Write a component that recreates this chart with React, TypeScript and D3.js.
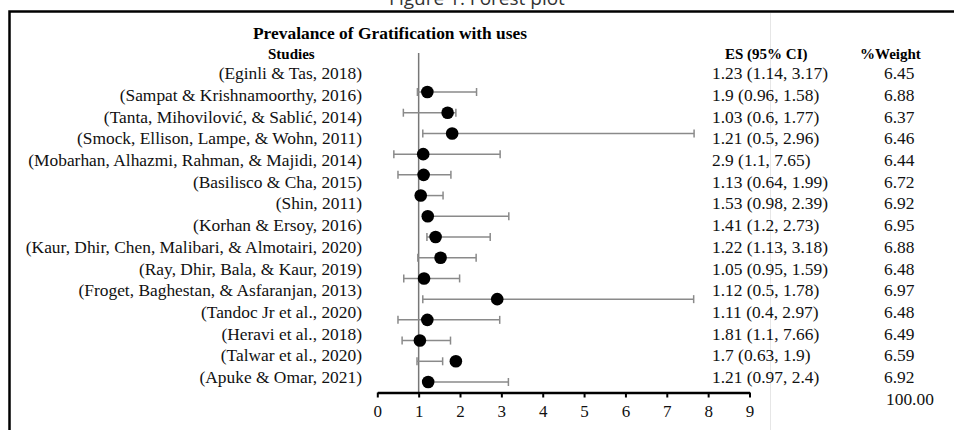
import React, { useEffect, useRef } from 'react';
import * as d3 from 'd3';

const studies = [
  '(Eginli & Tas, 2018)',
  '(Sampat & Krishnamoorthy, 2016)',
  '(Tanta, Mihovilović, & Sablić, 2014)',
  '(Smock, Ellison, Lampe, & Wohn, 2011)',
  '(Mobarhan, Alhazmi, Rahman, & Majidi, 2014)',
  '(Basilisco & Cha, 2015)',
  '(Shin, 2011)',
  '(Korhan & Ersoy, 2016)',
  '(Kaur, Dhir, Chen, Malibari, & Almotairi, 2020)',
  '(Ray, Dhir, Bala, & Kaur, 2019)',
  '(Froget, Baghestan, & Asfaranjan, 2013)',
  '(Tandoc Jr et al., 2020)',
  '(Heravi et al., 2018)',
  '(Talwar et al., 2020)',
  '(Apuke & Omar, 2021)',
];
const es = [1.23, 1.9, 1.03, 1.21, 2.9, 1.13, 1.53, 1.41, 1.22, 1.05, 1.12, 1.11, 1.81, 1.7, 1.21];
const lower = [1.14, 0.96, 0.6, 0.5, 1.1, 0.64, 0.98, 1.2, 1.13, 0.95, 0.5, 0.4, 1.1, 0.63, 0.97];
const upper = [3.17, 1.58, 1.77, 2.96, 7.65, 1.99, 2.39, 2.73, 3.18, 1.59, 1.78, 2.97, 7.66, 1.9, 2.4];
const weights = ['6.45', '6.88', '6.37', '6.46', '6.44', '6.72', '6.92', '6.95', '6.88', '6.48', '6.97', '6.48', '6.49', '6.59', '6.92'];
const totalWeight = '100.00';
const xTicks = [0, 1, 2, 3, 4, 5, 6, 7, 8, 9];

const serif = '"Liberation Serif", "Times New Roman", serif';
const fs = 17.4;

const App = () => {
  const ref = useRef(null);

  useEffect(() => {
    const svg = d3.select(ref.current);
    svg.selectAll('*').remove();

    const W = 954;
    const H = 430;
    svg.attr('width', W).attr('height', H);

    const x = d3.scaleLinear().domain([0, 9]).range([377.3, 749.5]);
    // table rows
    const yRow = d3.scalePoint().domain(studies).range([73, 377]);
    const step = yRow.step();
    // plotted rows come out in reverse order
    const yPlot = d3.scalePoint().domain(studies.slice().reverse()).range([92, 382]);

    // caption, cut at the top
    svg.append('text')
      .attr('x', 477).attr('y', 5)
      .attr('text-anchor', 'middle')
      .attr('font-family', '"Open Sans", sans-serif')
      .attr('font-size', 19)
      .attr('fill', '#333')
      .text('Figure 1: Forest plot');

    // frame
    svg.append('path')
      .attr('d', `M${W + 5},11.5 H9.5 V${H + 5}`)
      .attr('fill', 'none')
      .attr('stroke', '#000')
      .attr('stroke-width', 2.5);

    // faint divider
    svg.append('line')
      .attr('x1', 770.5).attr('x2', 770.5)
      .attr('y1', 13).attr('y2', H)
      .attr('stroke', '#e6e6e6')
      .attr('stroke-width', 1);

    svg.append('text')
      .attr('x', 253).attr('y', 33)
      .attr('dy', '0.35em')
      .attr('font-family', serif)
      .attr('font-size', fs)
      .attr('font-weight', 'bold')
      .text('Prevalance of Gratification with uses');

    const header = (tx, label) => svg.append('text')
      .attr('x', tx).attr('y', 54)
      .attr('dy', '0.35em')
      .attr('font-family', serif)
      .attr('font-size', 15)
      .attr('font-weight', 'bold')
      .text(label);
    header(268, 'Studies');
    header(725, 'ES (95% CI)');
    header(860, '%Weight');

    // study labels
    svg.append('g')
      .selectAll('text')
      .data(studies)
      .join('text')
      .attr('x', 362)
      .attr('y', d => yRow(d))
      .attr('dy', '0.35em')
      .attr('text-anchor', 'end')
      .attr('font-family', serif)
      .attr('font-size', fs)
      .attr('fill', '#111')
      .text(d => d);

    // ES column
    svg.append('g')
      .selectAll('text')
      .data(studies)
      .join('text')
      .attr('x', 712)
      .attr('y', d => yRow(d))
      .attr('dy', '0.35em')
      .attr('font-family', serif)
      .attr('font-size', fs)
      .attr('fill', '#111')
      .text((d, i) => `${es[i]} (${lower[i]}, ${upper[i]})`);

    // weight column
    svg.append('g')
      .selectAll('text')
      .data(studies)
      .join('text')
      .attr('x', 884)
      .attr('y', d => yRow(d))
      .attr('dy', '0.35em')
      .attr('font-family', serif)
      .attr('font-size', fs)
      .attr('fill', '#111')
      .text((d, i) => weights[i]);

    svg.append('text')
      .attr('x', 886)
      .attr('y', yRow(studies[studies.length - 1]) + step)
      .attr('dy', '0.35em')
      .attr('font-family', serif)
      .attr('font-size', fs)
      .attr('fill', '#111')
      .text(totalWeight);

    const axisY = 392.5;

    // reference line at 1
    svg.append('line')
      .attr('x1', x(1)).attr('x2', x(1))
      .attr('y1', 53).attr('y2', axisY)
      .attr('stroke', '#777')
      .attr('stroke-width', 1.5);

    // CIs
    const g = svg.append('g');
    studies.forEach((s, i) => {
      const yy = yPlot(s);
      g.append('line')
        .attr('x1', x(lower[i])).attr('x2', x(upper[i]))
        .attr('y1', yy).attr('y2', yy)
        .attr('stroke', '#8a8a8a')
        .attr('stroke-width', 1.5);
      [lower[i], upper[i]].forEach(v => {
        g.append('line')
          .attr('x1', x(v)).attr('x2', x(v))
          .attr('y1', yy - 4).attr('y2', yy + 4)
          .attr('stroke', '#8a8a8a')
          .attr('stroke-width', 1.5);
      });
    });
    g.selectAll('circle')
      .data(studies)
      .join('circle')
      .attr('cx', (d, i) => x(es[i]))
      .attr('cy', d => yPlot(d))
      .attr('r', 6.3)
      .attr('fill', '#000');

    // x axis
    const axis = svg.append('g')
      .attr('transform', `translate(0,${axisY})`)
      .call(d3.axisBottom(x).tickValues(xTicks).tickSize(5).tickSizeOuter(0).tickPadding(7));
    axis.select('.domain').attr('stroke-width', 2.5);
    axis.selectAll('line').attr('stroke-width', 2);
    axis.selectAll('text')
      .attr('font-family', serif)
      .attr('font-size', 17)
      .attr('fill', '#111');
  }, []);

  return (
    <div style={{ position: 'absolute', left: 0, top: 0, width: 954, height: 430, background: '#fff' }}>
      <svg ref={ref}></svg>
    </div>
  );
};

export default App;
